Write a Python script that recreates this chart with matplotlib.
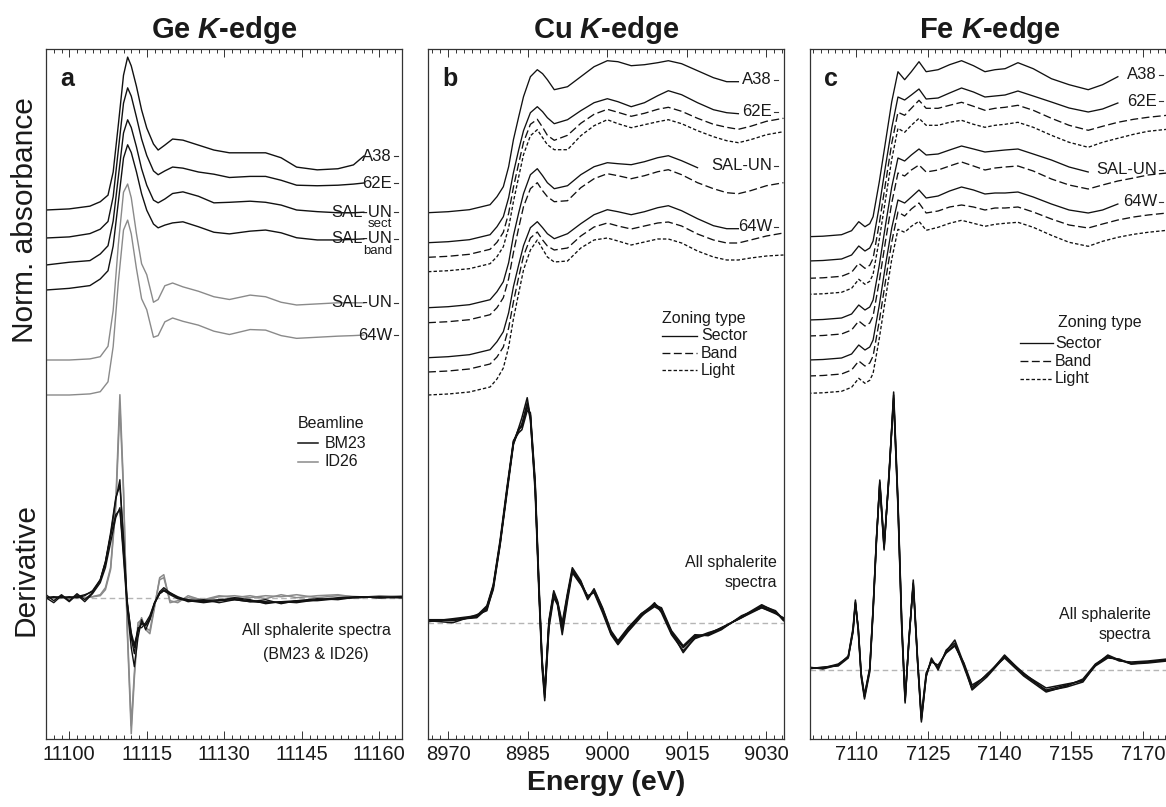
import numpy as np
import matplotlib
matplotlib.use("Agg")
import matplotlib.pyplot as plt
from matplotlib.ticker import MultipleLocator, FixedLocator, FixedFormatter
from matplotlib.transforms import blended_transform_factory

plt.rcParams['font.family'] = ['Liberation Sans', 'DejaVu Sans']
plt.rcParams['mathtext.fontset'] = 'custom'
plt.rcParams['mathtext.it'] = 'Liberation Sans:italic:bold'
plt.rcParams['mathtext.rm'] = 'Liberation Sans:bold'

nan = np.nan

# ---------------- DATA ----------------
# Ge K-edge, normalized absorbance
ge_abs_E = [11095.5, 11100, 11104, 11106, 11107.5, 11108.5, 11109.5, 11110.5, 11111.3, 11112, 11113, 11114,
            11115, 11116.3, 11117.2, 11118.5, 11120, 11122, 11125, 11128, 11131, 11135, 11138, 11141, 11144,
            11148, 11152, 11155, 11157]
ge_A38 = [0, .02, .07, .15, .27, .69, 1.55, 2.45, 2.78, 2.62, 2.25, 1.82, 1.49, 1.2, 1.09, 1.18, 1.29, 1.27,
          1.18, 1.09, 1.04, 1.04, 1.04, .95, .78, .73, .75, .82, .98]
ge_62E = [0, .02, .08, .16, .3, .75, 1.6, 2.45, 2.73, 2.58, 2.2, 1.8, 1.5, 1.22, 1.15, 1.22, 1.29, 1.27, 1.2,
          1.16, 1.1, 1.12, 1.12, 1.05, .96, .95, .96, .98, 1.0]
ge_SALUN_sect = [0, .05, .08, .2, .35, .8, 1.6, 2.4, 2.64, 2.5, 2.15, 1.75, 1.45, 1.18, 1.13, 1.2, 1.3, 1.33,
                 1.25, 1.13, 1.14, 1.16, 1.14, 1.09, 1.0, .97, .95, .95, .96]
ge_SALUN_band = [0, .03, .08, .2, .35, .8, 1.6, 2.4, 2.64, 2.5, 2.15, 1.75, 1.45, 1.2, 1.13, 1.18, 1.22, 1.24,
                 1.15, 1.05, 1.02, 1.07, 1.09, 1.04, .95, .91, .91, .92, .93]
ge_SALUN_id26 = [0, 0, .02, .06, .25, .9, 2.1, 3.05, 3.2, 2.95, 2.3, 1.75, 1.55, 1.05, 1.1, 1.35, 1.4, 1.33,
                 1.25, 1.15, 1.1, 1.18, 1.15, 1.05, 1.0, 1.02, 1.04, 1.04, 1.04]
ge_64W_id26 = [0, 0, .02, .06, .24, .88, 2.05, 3.0, 3.18, 2.93, 2.3, 1.75, 1.55, 1.05, 1.08, 1.33, 1.4, 1.34,
               1.27, 1.16, 1.1, 1.19, 1.18, 1.08, 1.03, 1.05, 1.07, 1.08, 1.09]

# Ge K-edge, derivative
ge_der_E = [11095.5, 11097, 11098.5, 11100, 11101.5, 11103, 11104.5, 11106, 11107, 11108, 11109, 11109.8,
            11110.5, 11111.2, 11112, 11112.6, 11113.3, 11114, 11114.8, 11115.6, 11116.5, 11117.5, 11118.3,
            11119.5, 11121, 11123, 11126, 11129, 11132, 11135, 11138, 11141, 11144, 11148, 11152, 11156,
            11160, 11164.4]
ge_der_bm23_1 = [0.0, 0.0, 0.01, 0.0, 0.01, 0.03, 0.06, 0.17, 0.34, 0.62, 0.98, 1.18, 0.55, -0.05, -0.35, -0.47,
                 -0.32, -0.26, -0.28, -0.2, -0.05, 0.05, 0.08, 0.04, 0.0, -0.02, -0.03, -0.02, -0.01, -0.03,
                 -0.04, -0.05, -0.04, -0.02, -0.01, 0.0, 0.01, 0.0]
ge_der_bm23_2 = [0.0, 0.01, 0.0, 0.01, 0.0, 0.02, 0.07, 0.18, 0.36, 0.65, 1.0, 1.12, 0.6, -0.02, -0.38, -0.5,
                 -0.34, -0.25, -0.27, -0.22, -0.06, 0.04, 0.07, 0.05, 0.01, -0.03, -0.04, -0.03, -0.02, -0.04,
                 -0.05, -0.04, -0.03, -0.03, -0.01, 0.01, 0.0, 0.01]
ge_der_bm23_3 = [0.0, -0.05, 0.02, -0.04, 0.03, -0.04, 0.04, 0.15, 0.3, 0.55, 0.8, 0.9, 0.45, -0.05, -0.4, -0.56,
                 -0.3, -0.3, -0.25, -0.18, -0.05, 0.04, 0.07, 0.03, -0.01, -0.03, -0.05, -0.03, 0.0, -0.02,
                 -0.06, -0.04, -0.05, -0.02, 0.0, 0.01, 0.0, 0.0]
ge_der_bm23_4 = [0.03, -0.03, 0.03, -0.03, 0.04, -0.02, 0.05, 0.18, 0.36, 0.62, 0.83, 0.88, 0.4, -0.1, -0.5, -0.69,
                 -0.4, -0.22, -0.32, -0.22, -0.06, 0.06, 0.1, 0.05, 0.0, -0.04, -0.02, -0.05, -0.02, -0.04,
                 -0.02, -0.06, -0.03, -0.01, -0.02, 0.01, 0.0, 0.01]
ge_der_id26_1 = [0.0, 0.0, 0.0, 0.0, 0.0, 0.0, 0.01, 0.03, 0.1, 0.3, 0.95, 2.03, 1.1, -0.3, -1.36, -0.8, -0.3,
                 -0.2, -0.32, -0.36, -0.1, 0.2, 0.23, -0.05, -0.03, 0.0, -0.02, 0.02, 0.0, 0.02, -0.01, 0.03,
                 0.0, 0.02, 0.03, 0.0, 0.02, 0.01]
ge_der_id26_2 = [0.0, 0.01, 0.0, 0.0, 0.01, 0.0, 0.01, 0.02, 0.08, 0.28, 0.9, 1.92, 1.05, -0.25, -1.28, -0.75,
                 -0.25, -0.22, -0.3, -0.33, -0.08, 0.18, 0.2, -0.03, -0.05, 0.02, -0.03, 0.01, 0.02, 0.0, 0.02,
                 0.01, 0.03, 0.0, 0.02, 0.01, 0.0, 0.02]

# Cu K-edge, normalized absorbance
cu_abs_E = [8966.2, 8970, 8974, 8977.9, 8979.2, 8980.4, 8981.4, 8982.3, 8983.3, 8984.2, 8985.5, 8986.8, 8987.8,
            8988.7, 8990, 8992.5, 8995, 8997.5, 9000, 9002, 9004.5, 9007, 9009.5, 9011.5, 9014, 9017, 9020,
            9022.5, 9024.7, 9027, 9030, 9033.2]
cu_A38_sector = [0, .01, .03, .08, .16, .26, .46, .73, .96, 1.16, 1.36, 1.43, 1.39, 1.33, 1.23, 1.26, 1.36, 1.46,
                 1.52, 1.51, 1.47, 1.48, 1.5, 1.52, 1.49, 1.42, 1.35, 1.31, 1.31, nan, nan, nan]
cu_62E_sector = [0, .01, .03, .08, .16, .26, .45, .7, .93, 1.12, 1.3, 1.36, 1.31, 1.25, 1.19, 1.23, 1.32, 1.4,
                 1.44, 1.41, 1.36, 1.4, 1.47, 1.52, 1.48, 1.4, 1.33, 1.3, 1.29, nan, nan, nan]
cu_62E_band = [0, .01, .03, .08, .15, .25, .44, .7, .94, 1.15, 1.33, 1.38, 1.3, 1.22, 1.17, 1.22, 1.34, 1.43,
               1.48, 1.45, 1.41, 1.44, 1.48, 1.5, 1.46, 1.39, 1.33, 1.3, 1.28, 1.31, 1.36, 1.39]
cu_62E_light = [0, .01, .03, .08, .15, .25, .44, .7, .95, 1.17, 1.36, 1.42, 1.34, 1.27, 1.22, 1.22, 1.36, 1.46,
                1.52, 1.48, 1.44, 1.47, 1.5, 1.52, 1.48, 1.41, 1.35, 1.31, 1.29, 1.32, 1.37, 1.4]
cu_SALUN_sector = [0, .01, .03, .08, .16, .26, .45, .72, .95, 1.14, 1.33, 1.39, 1.32, 1.25, 1.19, 1.22, 1.33,
                   1.41, 1.45, 1.44, 1.43, 1.46, 1.5, 1.52, 1.47, 1.4, nan, nan, nan, nan, nan, nan]
cu_SALUN_band = [0, .01, .03, .08, .15, .25, .44, .7, .95, 1.16, 1.34, 1.4, 1.32, 1.26, 1.21, 1.22, 1.35, 1.44,
                 1.49, 1.47, 1.44, 1.47, 1.51, 1.53, 1.48, 1.4, 1.34, 1.3, 1.29, 1.32, 1.37, 1.4]
cu_64W_sector = [0, .01, .03, .08, .16, .26, .45, .71, .93, 1.12, 1.3, 1.36, 1.3, 1.24, 1.19, 1.24, 1.34, 1.43,
                 1.48, 1.46, 1.43, 1.46, 1.5, 1.52, 1.47, 1.39, 1.32, 1.29, 1.29, nan, nan, nan]
cu_64W_band = [0, .01, .03, .08, .15, .25, .44, .7, .95, 1.16, 1.34, 1.4, 1.32, 1.26, 1.22, 1.24, 1.36, 1.45,
               1.49, 1.46, 1.43, 1.46, 1.49, 1.5, 1.46, 1.38, 1.32, 1.29, 1.29, 1.32, 1.36, 1.39]
cu_64W_light = [0, .01, .03, .08, .16, .27, .48, .76, 1.02, 1.25, 1.45, 1.55, 1.46, 1.38, 1.33, 1.34, 1.47, 1.55,
                1.57, 1.54, 1.5, 1.53, 1.56, 1.56, 1.52, 1.44, 1.38, 1.35, 1.35, 1.37, 1.39, 1.4]

# Cu K-edge, derivative (all sphalerite spectra)
cu_der_E = [8966.2, 8970.9, 8975.4, 8977.3, 8978.5, 8979.8, 8981.1, 8982.3, 8983.3, 8983.9, 8984.9, 8985.5,
            8986.4, 8987.1, 8987.7, 8988.2, 8989.0, 8989.9, 8990.6, 8991.5, 8992.5, 8993.4, 8995.0, 8996.3,
            8997.5, 8999.1, 9000.7, 9002.0, 9003.9, 9006.4, 9008.9, 9010.2, 9012.1, 9014.3, 9016.5, 9019.0,
            9021.5, 9025.3, 9029.1, 9031.7, 9033.2]
cu_der_1 = [0.02, 0.03, 0.06, 0.16, 0.36, 0.80, 1.33, 1.80, 1.93, 1.97, 2.2, 2.07, 1.37, 0.37, -0.4, -0.72, 0.0,
            0.3, 0.2, -0.05, 0.27, 0.53, 0.4, 0.25, 0.32, 0.13, -0.1, -0.2, -0.07, 0.08, 0.18, 0.13, -0.1,
            -0.25, -0.14, -0.12, -0.06, 0.06, 0.16, 0.1, 0.04]
cu_der_2 = [0.03, 0.03, 0.05, 0.14, 0.33, 0.78, 1.30, 1.78, 1.95, 2.05, 2.25, 2.05, 1.3, 0.3, -0.45, -0.78,
            -0.05, 0.25, 0.18, -0.12, 0.22, 0.5, 0.38, 0.27, 0.3, 0.1, -0.12, -0.22, -0.09, 0.06, 0.2, 0.1,
            -0.12, -0.28, -0.16, -0.11, -0.05, 0.05, 0.17, 0.12, 0.03]
cu_der_3 = [0.01, 0.04, 0.07, 0.17, 0.38, 0.83, 1.36, 1.82, 1.9, 1.93, 2.12, 2.1, 1.42, 0.42, -0.36, -0.68, 0.03,
            0.32, 0.22, 0.0, 0.3, 0.55, 0.42, 0.24, 0.34, 0.15, -0.08, -0.18, -0.05, 0.09, 0.17, 0.15, -0.08,
            -0.23, -0.12, -0.13, -0.07, 0.07, 0.15, 0.09, 0.05]
cu_der_4 = [0.02, 0.0, 0.08, 0.12, 0.35, 0.79, 1.34, 1.79, 1.92, 1.99, 2.18, 2.03, 1.35, 0.35, -0.42, -0.75,
            -0.02, 0.28, 0.19, -0.08, 0.25, 0.52, 0.41, 0.26, 0.31, 0.12, -0.11, -0.21, -0.08, 0.07, 0.16, 0.12,
            -0.09, -0.3, -0.15, -0.1, -0.06, 0.06, 0.18, 0.11, 0.02]
cu_der_5 = [0.03, 0.02, 0.06, 0.15, 0.37, 0.81, 1.32, 1.81, 1.94, 1.96, 2.16, 2.08, 1.38, 0.36, -0.38, -0.7,
            0.01, 0.29, 0.21, -0.03, 0.28, 0.51, 0.39, 0.23, 0.33, 0.14, -0.09, -0.19, -0.06, 0.09, 0.19, 0.14,
            -0.11, -0.24, -0.13, -0.12, -0.05, 0.05, 0.15, 0.1, 0.04]

# Fe K-edge, normalized absorbance
fe_abs_E = [7099.9, 7103, 7106.9, 7109, 7110.5, 7111.8, 7112.8, 7113.5, 7114.8, 7116.1, 7117.4, 7118.7, 7120.1,
            7121.5, 7123.1, 7124.6, 7127.1, 7129.5, 7132, 7134.5, 7136.9, 7139, 7141.1, 7143.8, 7147, 7150.8,
            7154.5, 7158.5, 7161.5, 7164.7, 7168, 7171, 7175]
fe_A38_sector = [0, .005, .02, .06, .15, .10, .13, .2, .55, .95, 1.35, 1.65, 1.57, 1.65, 1.75, 1.65, 1.67, 1.72,
                 1.76, 1.71, 1.65, 1.67, 1.68, 1.74, 1.68, 1.58, 1.52, 1.47, 1.52, 1.6, nan, nan, nan]
fe_62E_sector = [0, .005, .02, .06, .15, .10, .13, .2, .55, .95, 1.33, 1.64, 1.61, 1.66, 1.72, 1.62, 1.63, 1.68,
                 1.73, 1.69, 1.64, 1.65, 1.66, 1.70, 1.65, 1.59, 1.53, 1.49, 1.52, 1.58, nan, nan, nan]
fe_62E_band = [0, .005, .02, .06, .15, .10, .13, .2, .55, .95, 1.35, 1.66, 1.63, 1.7, 1.78, 1.7, 1.7, 1.73, 1.76,
               1.72, 1.68, 1.7, 1.71, 1.73, 1.68, 1.6, 1.53, 1.48, 1.52, 1.56, 1.59, 1.61, 1.63]
fe_62E_light = [0, .005, .02, .06, .15, .10, .13, .2, .55, .95, 1.35, 1.66, 1.62, 1.69, 1.76, 1.69, 1.69, 1.72,
                1.74, 1.7, 1.67, 1.69, 1.7, 1.72, 1.67, 1.59, 1.52, 1.47, 1.52, 1.56, 1.6, 1.63, 1.65]
fe_SALUN_sector = [0, .005, .02, .06, .15, .10, .13, .2, .55, .95, 1.33, 1.62, 1.59, 1.65, 1.71, 1.65, 1.66, 1.7,
                   1.74, 1.71, 1.68, 1.69, 1.7, 1.71, 1.66, 1.6, 1.53, 1.48, nan, nan, nan, nan, nan]
fe_SALUN_band = [0, .005, .02, .06, .15, .10, .13, .2, .55, .95, 1.33, 1.63, 1.6, 1.66, 1.71, 1.64, 1.66, 1.7,
                 1.74, 1.7, 1.66, 1.68, 1.69, 1.7, 1.65, 1.57, 1.51, 1.47, 1.51, 1.55, 1.58, 1.61, 1.63]
fe_64W_sector = [0, .005, .02, .06, .15, .10, .13, .2, .55, .95, 1.32, 1.6, 1.57, 1.63, 1.7, 1.62, 1.64, 1.69,
                 1.73, 1.7, 1.66, 1.67, 1.67, 1.68, 1.63, 1.56, 1.5, 1.47, 1.5, 1.56, nan, nan, nan]
fe_64W_band = [0, .005, .02, .06, .15, .10, .13, .2, .55, .95, 1.34, 1.64, 1.6, 1.67, 1.73, 1.63, 1.65, 1.69,
               1.71, 1.69, 1.66, 1.68, 1.68, 1.69, 1.64, 1.57, 1.51, 1.48, 1.52, 1.56, 1.59, 1.61, 1.63]
fe_64W_light = [0, .005, .02, .06, .15, .10, .13, .2, .55, .95, 1.34, 1.64, 1.61, 1.67, 1.72, 1.63, 1.66, 1.7,
                1.73, 1.7, 1.67, 1.69, 1.7, 1.71, 1.66, 1.58, 1.51, 1.47, 1.52, 1.56, 1.59, 1.61, 1.63]

# Fe K-edge, derivative (all sphalerite spectra)
fe_der_E = [7099.9, 7103, 7106.2, 7108.3, 7109.3, 7109.8, 7110.4, 7111.0, 7111.7, 7112.8, 7113.5, 7114.2,
            7114.9, 7115.8, 7116.8, 7117.8, 7118.7, 7119.5, 7120.2, 7121.0, 7121.9, 7122.8, 7123.6, 7124.6,
            7125.7, 7127.1, 7128.8, 7130.6, 7132.5, 7134.2, 7137.3, 7141.0, 7145.0, 7149.7, 7154.0, 7157.4,
            7160.0, 7162.6, 7165.0, 7167.5, 7171.0, 7175.0]
fe_der_1 = [0.02, 0.02, 0.05, 0.13, 0.4, 0.68, 0.4, -0.05, -0.27, 0.0, 0.6, 1.3, 1.87, 1.23, 1.92, 2.75, 1.67,
            0.45, -0.3, 0.3, 0.87, 0.1, -0.48, -0.05, 0.1, 0.03, 0.18, 0.25, 0.05, -0.17, -0.05, 0.14, -0.05,
            -0.2, -0.15, -0.1, 0.05, 0.13, 0.1, 0.07, 0.08, 0.1]
fe_der_2 = [0.01, 0.03, 0.04, 0.12, 0.38, 0.66, 0.42, -0.03, -0.25, 0.02, 0.62, 1.32, 1.85, 1.2, 1.95, 2.72, 1.62,
            0.4, -0.33, 0.32, 0.85, 0.08, -0.5, -0.07, 0.12, 0.0, 0.2, 0.27, 0.03, -0.19, -0.04, 0.12, -0.06,
            -0.22, -0.16, -0.09, 0.06, 0.14, 0.09, 0.08, 0.09, 0.11]
fe_der_3 = [0.03, 0.01, 0.05, 0.14, 0.42, 0.7, 0.38, -0.07, -0.29, -0.02, 0.58, 1.28, 1.9, 1.26, 1.9, 2.78, 1.7,
            0.48, -0.28, 0.28, 0.9, 0.12, -0.46, -0.03, 0.08, 0.05, 0.17, 0.24, 0.07, -0.15, -0.06, 0.15, -0.04,
            -0.18, -0.14, -0.11, 0.04, 0.12, 0.11, 0.06, 0.07, 0.09]
fe_der_4 = [0.02, 0.02, 0.06, 0.13, 0.39, 0.67, 0.41, -0.04, -0.26, 0.01, 0.61, 1.31, 1.88, 1.22, 1.93, 2.7, 1.65,
            0.43, -0.31, 0.31, 0.86, 0.09, -0.52, -0.06, 0.1, 0.02, 0.19, 0.3, 0.06, -0.2, -0.07, 0.13, -0.03,
            -0.21, -0.17, -0.12, 0.05, 0.15, 0.1, 0.06, 0.08, 0.1]

# ---------------- LAYOUT ----------------
W, H = 1166, 807
TOP, BOT = 49, 739
HT = BOT - TOP
BLACK = '#111111'
GRAY = '#8a8a8a'
TXT = '#1a1a1a'
LS = {'sector': '-', 'band': (0, (6, 2.6)), 'light': (0, (2.6, 1.6))}

fig = plt.figure(figsize=(W / 100, H / 100), dpi=100)


def make_ax(l, r):
    ax = fig.add_axes([l / W, 1 - BOT / H, (r - l) / W, HT / H])
    ax._px = (l, r)
    return ax


def Y(py):
    return BOT - py


def FX(ax, px):
    l, r = ax._px
    return (px - l) / (r - l)


def style(ax, xlim, majors, title, letter):
    ax.set_xlim(*xlim)
    ax.set_ylim(0, HT)
    ax.xaxis.set_major_locator(FixedLocator(majors))
    ax.xaxis.set_major_formatter(FixedFormatter([str(m) for m in majors]))
    ax.xaxis.set_minor_locator(MultipleLocator(1.5))
    ax.tick_params(axis='x', which='both', direction='in', top=True, bottom=True,
                   labelsize=14.5, pad=4, width=0.7, color='#333333', labelcolor=TXT)
    ax.tick_params(axis='x', which='major', length=5.5)
    ax.tick_params(axis='x', which='minor', length=2.6)
    ax.set_yticks([])
    for s in ax.spines.values():
        s.set_linewidth(0.9)
        s.set_color('#333333')
    ax.set_title(title, fontsize=21, fontweight='bold', pad=8, color=TXT)
    tr = blended_transform_factory(ax.transAxes, ax.transData)
    ax.text(FX(ax, ax._px[0] + 14), Y(79), letter, transform=tr, fontsize=18,
            fontweight='bold', ha='left', va='center', color=TXT)
    return tr


def end_label(ax, tr, y, text, gap, sub=None, sub_dy=12):
    l, r = ax._px
    w = r - l
    ax.text(1 - gap / w, y, text, transform=tr, ha='right', va='center', fontsize=12, color=TXT)
    ax.plot([1 - (gap - 2) / w, 1 - (gap - 6) / w], [y, y], transform=tr, color='#333333', lw=0.8,
            clip_on=False)
    if sub:
        ax.text(1 - gap / w, y - sub_dy, sub, transform=tr, ha='right', va='center', fontsize=9.5,
                color=TXT)


def last(vals):
    v = np.asarray(vals, float)
    return v[np.isfinite(v)][-1]


# ---------------- PANEL a: Ge ----------------
axa = make_ax(46, 402)
tra = style(axa, (11095.5, 11164.4), [11100, 11115, 11130, 11145, 11160], 'Ge $K$-edge', 'a')
ge_unit = 55
ge_curves = [  # name, data, color, baseline px (top), sub label
    ('A38', ge_A38, BLACK, 210, None),
    ('62E', ge_62E, BLACK, 238, None),
    ('SAL-UN', ge_SALUN_sect, BLACK, 265, 'sect'),
    ('SAL-UN', ge_SALUN_band, BLACK, 290, 'band'),
    ('SAL-UN', ge_SALUN_id26, GRAY, 360, None),
    ('64W', ge_64W_id26, GRAY, 395, None),
]
for name, vals, col, base, sub in ge_curves:
    yy = Y(base) + ge_unit * np.asarray(vals, float)
    axa.plot(ge_abs_E, yy, color=col, lw=1.0)
    end_label(axa, tra, yy[-1], name, 10, sub, 12)

ge_zero = Y(597.7)
axa.axhline(ge_zero, color='#b5b5b5', lw=1.0, ls=(0, (4, 2.5)))
for vals in [ge_der_id26_1, ge_der_id26_2]:
    axa.plot(ge_der_E, ge_zero + 100 * np.asarray(vals), color=GRAY, lw=1.1)
for vals in [ge_der_bm23_1, ge_der_bm23_2, ge_der_bm23_3, ge_der_bm23_4]:
    axa.plot(ge_der_E, ge_zero + 100 * np.asarray(vals), color=BLACK, lw=1.0)

axa.text(FX(axa, 298), Y(423), 'Beamline', transform=tra, fontsize=11.5, ha='left', va='center', color=TXT)
for py, col, lab in [(443, BLACK, 'BM23'), (462, GRAY, 'ID26')]:
    axa.plot([FX(axa, 298), FX(axa, 318)], [Y(py), Y(py)], transform=tra, color=col, lw=1.1)
    axa.text(FX(axa, 325), Y(py), lab, transform=tra, fontsize=11.5, ha='left', va='center', color=TXT)
axa.text(FX(axa, 316), Y(631), 'All sphalerite spectra', transform=tra, fontsize=11.5, ha='center',
         va='center', color=TXT)
axa.text(FX(axa, 316), Y(655), '(BM23 & ID26)', transform=tra, fontsize=11.5, ha='center', va='center',
         color=TXT)

# ---------------- PANEL b: Cu ----------------
axb = make_ax(428, 784)
trb = style(axb, (8966.2, 9033.3), [8970, 8985, 9000, 9015, 9030], 'Cu $K$-edge', 'b')
cu_unit = 100
cu_curves = [
    ('A38', cu_A38_sector, 'sector', 212.7),
    ('62E', cu_62E_sector, 'sector', 242.7),
    (None, cu_62E_band, 'band', 257.3),
    (None, cu_62E_light, 'light', 271.7),
    ('SAL-UN', cu_SALUN_sector, 'sector', 307.7),
    (None, cu_SALUN_band, 'band', 322.7),
    ('64W', cu_64W_sector, 'sector', 357.7),
    (None, cu_64W_band, 'band', 372),
    (None, cu_64W_light, 'light', 395),
]
for name, vals, kind, base in cu_curves:
    yy = Y(base) + cu_unit * np.asarray(vals, float)
    axb.plot(cu_abs_E, yy, color=BLACK, lw=0.95, ls=LS[kind])
    if name:
        end_label(axb, trb, last(vals) * cu_unit + Y(base) + 2, name, 12)

cu_zero = Y(622.7)
axb.axhline(cu_zero, color='#b5b5b5', lw=1.0, ls=(0, (4, 2.5)))
for vals in [cu_der_1, cu_der_2, cu_der_3, cu_der_4, cu_der_5]:
    axb.plot(cu_der_E, cu_zero + 100 * np.asarray(vals), color=BLACK, lw=1.1)

axb.text(FX(axb, 662), Y(318), 'Zoning type', transform=trb, fontsize=11.5, ha='left', va='center', color=TXT)
for py, kind, lab in [(336, 'sector', 'Sector'), (353, 'band', 'Band'), (370, 'light', 'Light')]:
    axb.plot([FX(axb, 662), FX(axb, 697)], [Y(py), Y(py)], transform=trb, color=BLACK, lw=0.95, ls=LS[kind])
    axb.text(FX(axb, 701), Y(py), lab, transform=trb, fontsize=11.5, ha='left', va='center', color=TXT)
axb.text(FX(axb, 777), Y(562), 'All sphalerite', transform=trb, fontsize=11.5, ha='right', va='center',
         color=TXT)
axb.text(FX(axb, 777), Y(582), 'spectra', transform=trb, fontsize=11.5, ha='right', va='center', color=TXT)

# ---------------- PANEL c: Fe ----------------
axc = make_ax(810, 1169)
trc = style(axc, (7100.3, 7175.4), [7110, 7125, 7140, 7155, 7170], 'Fe $K$-edge', 'c')
fe_unit = 100
fe_curves = [
    ('A38', fe_A38_sector, 'sector', 236.7),
    ('62E', fe_62E_sector, 'sector', 261),
    (None, fe_62E_band, 'band', 278.3),
    (None, fe_62E_light, 'light', 294.3),
    ('SAL-UN', fe_SALUN_sector, 'sector', 320),
    (None, fe_SALUN_band, 'band', 336),
    ('64W', fe_64W_sector, 'sector', 360),
    (None, fe_64W_band, 'band', 376),
    (None, fe_64W_light, 'light', 393.3),
]
for name, vals, kind, base in fe_curves:
    yy = Y(base) + fe_unit * np.asarray(vals, float)
    axc.plot(fe_abs_E, yy, color=BLACK, lw=0.95, ls=LS[kind])
    if name:
        end_label(axc, trc, last(vals) * fe_unit + Y(base) + 2, name, 12)

fe_zero = Y(670)
axc.axhline(fe_zero, color='#b5b5b5', lw=1.0, ls=(0, (4, 2.5)))
for vals in [fe_der_1, fe_der_2, fe_der_3, fe_der_4]:
    axc.plot(fe_der_E, fe_zero + 100 * np.asarray(vals), color=BLACK, lw=1.1)

axc.text(FX(axc, 1058), Y(323), 'Zoning type', transform=trc, fontsize=11.5, ha='left', va='center', color=TXT)
for py, kind, lab in [(343, 'sector', 'Sector'), (361, 'band', 'Band'), (379, 'light', 'Light')]:
    axc.plot([FX(axc, 1020), FX(axc, 1053)], [Y(py), Y(py)], transform=trc, color=BLACK, lw=0.95, ls=LS[kind])
    axc.text(FX(axc, 1055), Y(py), lab, transform=trc, fontsize=11.5, ha='left', va='center', color=TXT)
axc.text(FX(axc, 1151), Y(615), 'All sphalerite', transform=trc, fontsize=11.5, ha='right', va='center',
         color=TXT)
axc.text(FX(axc, 1151), Y(635), 'spectra', transform=trc, fontsize=11.5, ha='right', va='center', color=TXT)

# ---------------- shared labels ----------------
fig.text(25 / W, 1 - 220 / H, 'Norm. absorbance', rotation=90, ha='center', va='center', fontsize=21.5,
         color=TXT)
fig.text(25 / W, 1 - 570 / H, 'Derivative', rotation=90, ha='center', va='center', fontsize=21.5, color=TXT)
fig.text(606 / W, 1 - 783 / H, 'Energy (eV)', ha='center', va='center', fontsize=20.5, fontweight='bold',
         color=TXT)

fig.savefig('out.png', dpi=100)
